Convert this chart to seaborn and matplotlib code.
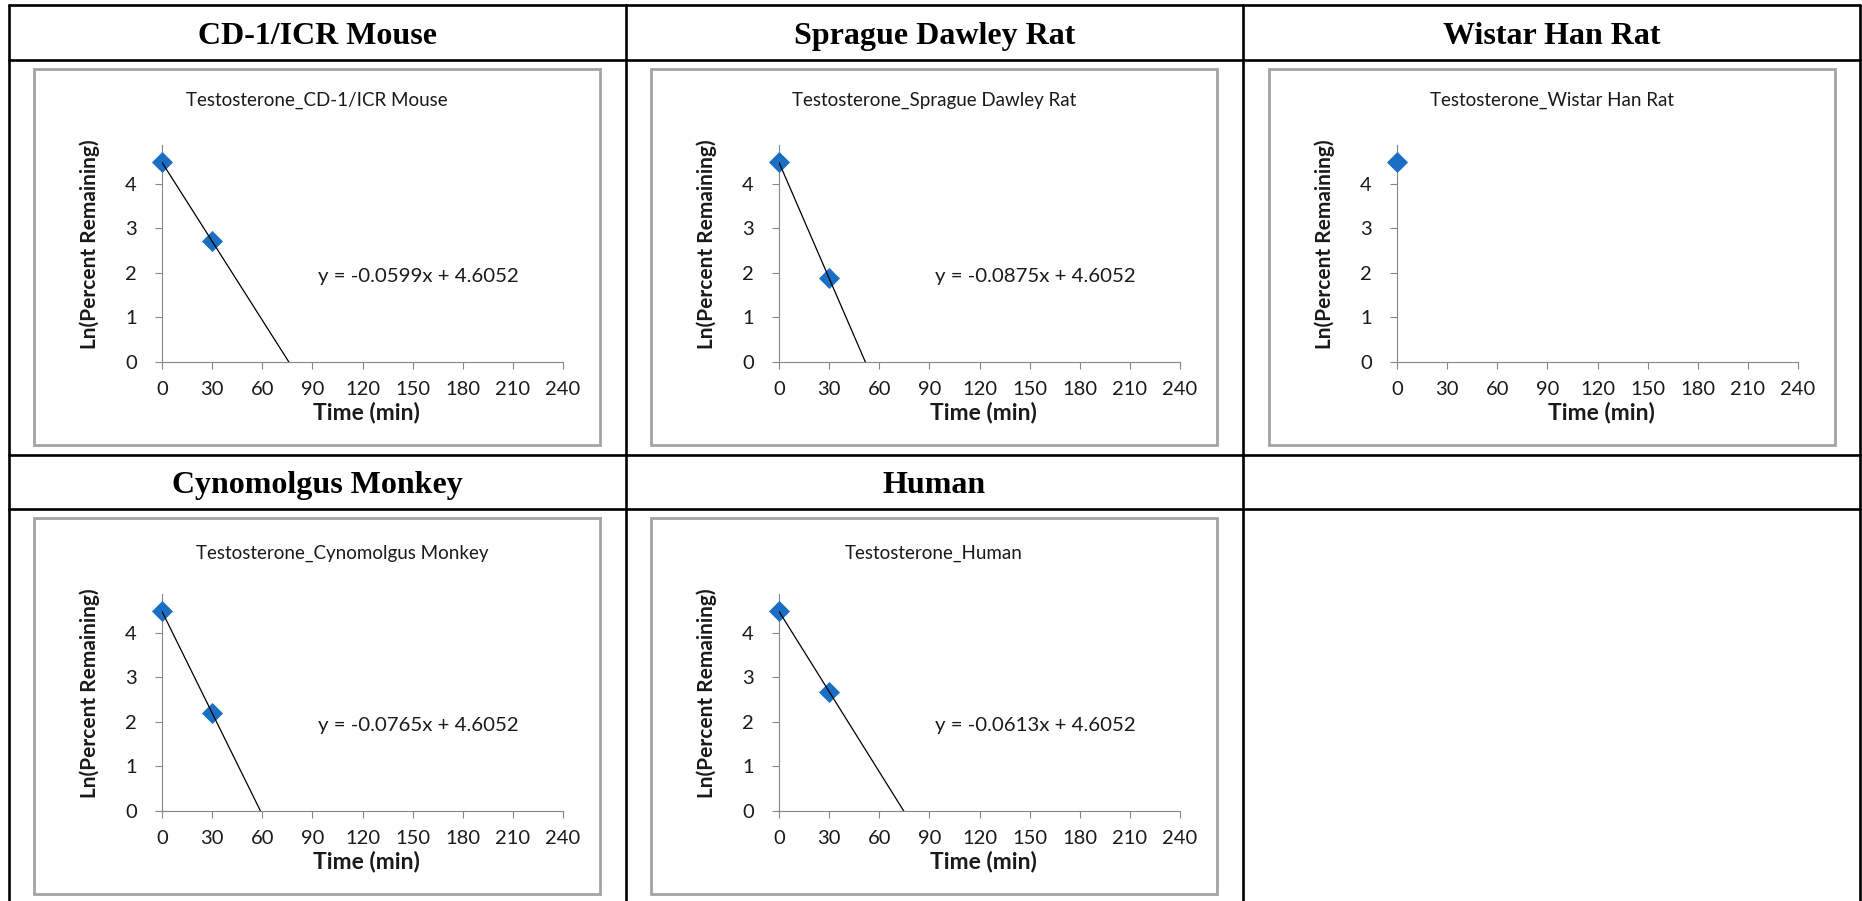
import matplotlib
matplotlib.use("Agg")
import matplotlib.pyplot as plt
from matplotlib.patches import Rectangle
from matplotlib.lines import Line2D
import seaborn as sns

sns.set_theme(style="white")
plt.rcParams["font.family"] = ["Lato", "DejaVu Sans"]

# data
times = [0, 30]
species = ["CD-1/ICR Mouse", "Sprague Dawley Rat", "Wistar Han Rat",
           "Cynomolgus Monkey", "Human"]
ln_mouse = [4.48, 2.71]
ln_sd_rat = [4.48, 1.88]
ln_wistar = [4.48]
ln_monkey = [4.48, 2.20]
ln_human = [4.48, 2.68]
equations = ["y = -0.0599x + 4.6052", "y = -0.0875x + 4.6052", None,
             "y = -0.0765x + 4.6052", "y = -0.0613x + 4.6052"]
x_ticks = [0, 30, 60, 90, 120, 150, 180, 210, 240]
y_ticks = [0, 1, 2, 3, 4]

series = [ln_mouse, ln_sd_rat, ln_wistar, ln_monkey, ln_human]

BLUE = "#1a6fc4"
GRAY = "#868686"
TXT = "#1a1a1a"

W, H = 1862, 901
fig = plt.figure(figsize=(W / 100, H / 100), dpi=100)
fig.patch.set_facecolor("white")


def fx(px):
    return px / W


def fy(py):
    return 1 - py / H


# table grid
col_edges = [9, 626, 1243, 1860]
row_lines = [5, 60, 455, 509]
for yl in row_lines:
    fig.add_artist(Line2D([fx(9), fx(1860)], [fy(yl), fy(yl)], color="black", lw=1.9))
for xl in col_edges:
    fig.add_artist(Line2D([fx(xl), fx(xl)], [fy(5), fy(901)], color="black", lw=1.9))

# header cells
header_base = [44, 493]
for i, name in enumerate(species):
    r, c = divmod(i, 3)
    cx = (col_edges[c] + col_edges[c + 1]) / 2
    fig.text(fx(cx), fy(header_base[r]), name, ha="center", va="baseline",
             family="Liberation Serif", weight="bold", fontsize=23, color="black")

# chart layout
box_left = [34, 651, 1269]
box_top = [69, 518]
box_w, box_h = 566, 376
axis_left = [162, 779, 1397]
axis_zero = [362, 811]
ax_w, ax_h = 401, 217
title_y = [100, 553]
title_dx = [0, 0, 0, 25, 0]

for i, name in enumerate(species):
    r, c = divmod(i, 3)
    vals = series[i]
    t = times[:len(vals)]

    fig.add_artist(Rectangle((fx(box_left[c]), fy(box_top[r] + box_h)),
                             box_w / W, box_h / H, transform=fig.transFigure,
                             fill=False, ec="#a3a3a3", lw=2.0))

    ax = fig.add_axes([fx(axis_left[c]), fy(axis_zero[r]), ax_w / W, ax_h / H])
    ax.set_xlim(0, 240)
    ax.set_ylim(0, 4.87)

    sns.scatterplot(x=t, y=vals, ax=ax, marker="D", s=115, color=BLUE,
                    edgecolor=BLUE, linewidth=0, zorder=3, clip_on=False)
    if len(vals) > 1:
        sns.regplot(x=t, y=vals, ax=ax, scatter=False, ci=None, truncate=False,
                    color="black", line_kws={"lw": 0.9, "zorder": 4})
    ax.set_xlim(0, 240)
    ax.set_ylim(0, 4.87)

    ax.set_xticks(x_ticks)
    ax.set_yticks(y_ticks)
    ax.set_xlabel("")
    ax.set_ylabel("")
    for s in ["top", "right"]:
        ax.spines[s].set_visible(False)
    for s in ["left", "bottom"]:
        ax.spines[s].set_color(GRAY)
        ax.spines[s].set_linewidth(0.8)
    ax.tick_params(bottom=True, left=True, direction="out", length=5, width=0.8,
                   color=GRAY, labelsize=14.5, labelcolor=TXT)
    ax.tick_params(axis="x", pad=9)
    ax.tick_params(axis="y", pad=13)

    ax.text(0.51, -0.235, "Time (min)", transform=ax.transAxes, ha="center",
            va="center", fontsize=16.5, weight="bold", color=TXT)
    ax.text(-0.18, 0.545, "Ln(Percent Remaining)", transform=ax.transAxes,
            rotation=90, ha="center", va="center", fontsize=15, weight="bold",
            color=TXT)
    if equations[i]:
        ax.text(0.388, 0.395, equations[i], transform=ax.transAxes, ha="left",
                va="center", fontsize=14.7, color=TXT)

    cx = box_left[c] + box_w / 2 + title_dx[i]
    fig.text(fx(cx), fy(title_y[r]), "Testosterone_" + name, ha="center",
             va="center", fontsize=13.5, color=TXT)

fig.savefig("out.png", dpi=100, facecolor="white")
